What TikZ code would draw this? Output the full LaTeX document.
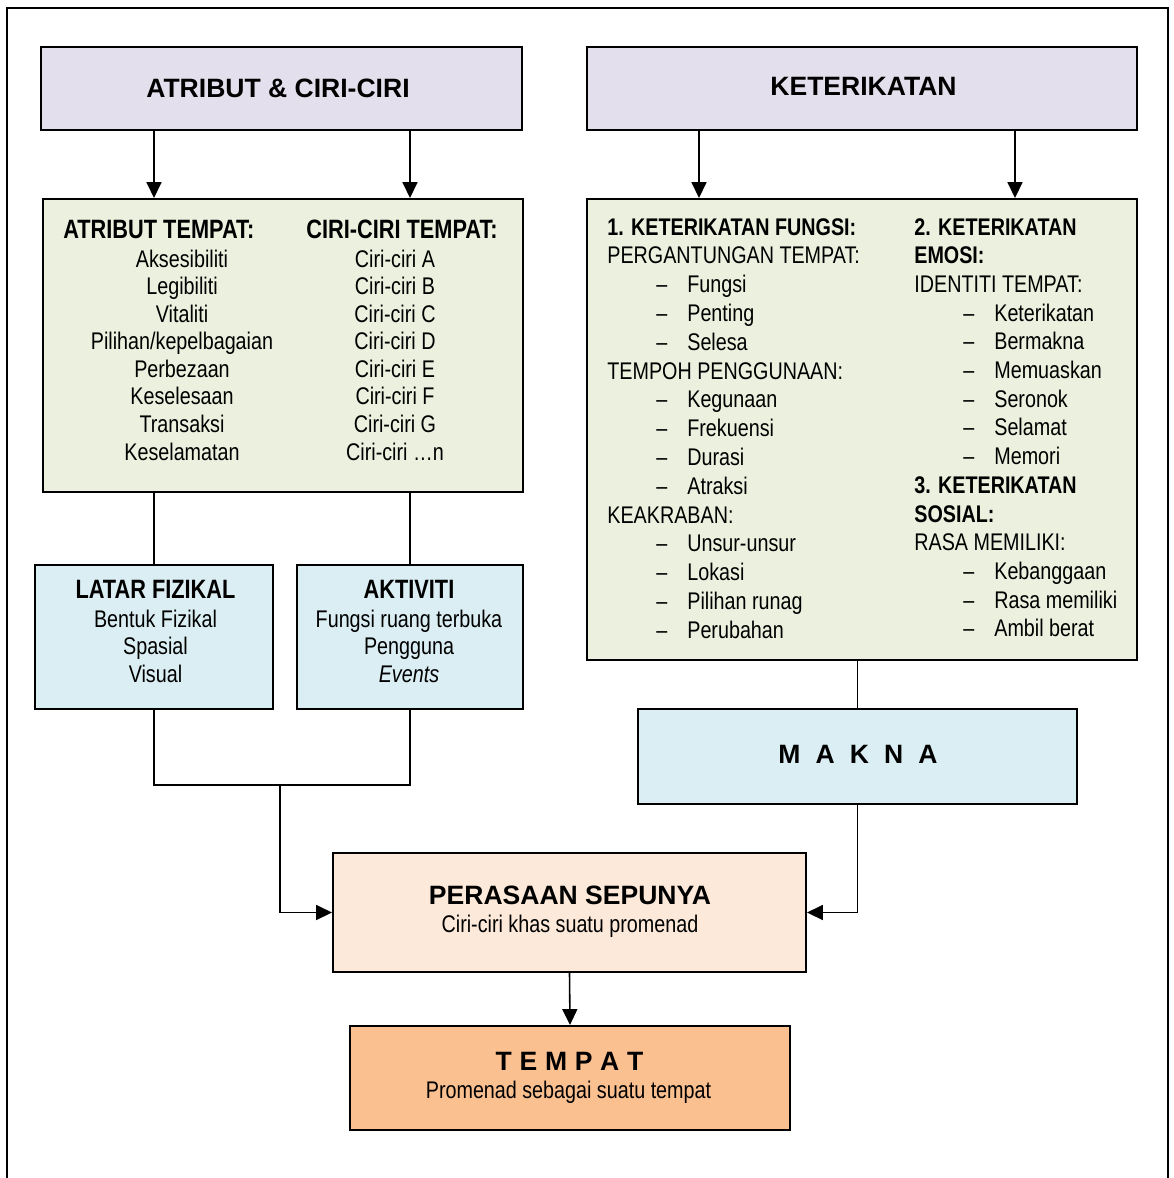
\documentclass[tikz,border=0pt]{standalone}
\usepackage{fontspec}
\setmainfont{Liberation Sans}
\newfontfamily\narrow{Liberation Sans}[FakeStretch=0.82]
\usepackage{tikz}
\usetikzlibrary{arrows.meta}

\definecolor{lilac}{HTML}{E4DFEC}
\definecolor{sage}{HTML}{EBF1DE}
\definecolor{sky}{HTML}{DAEEF3}
\definecolor{peach}{HTML}{FDE9D9}
\definecolor{apricot}{HTML}{FAC090}

\begin{document}
\begin{tikzpicture}[x=0.02cm, y=-0.02cm,
	box/.style={draw, line width=1.2pt, inner sep=0pt},
	link/.style={line width=0.9pt},
	arr/.style={link, -{Triangle[length=9pt,width=8.5pt]}},
	title/.style={font=\fontsize{15.1}{18}\selectfont\bfseries, anchor=base, inner sep=0pt},
	head/.style={font=\narrow\fontsize{15.1}{18}\selectfont\bfseries, anchor=base, inner sep=0pt},
	body/.style={font=\narrow\fontsize{13.7}{16}\selectfont, anchor=base, inner sep=0pt},
	bodyb/.style={body, font=\narrow\fontsize{13.7}{16}\selectfont\bfseries}]
	\useasboundingbox (0,0) rectangle (1174,1178);
	\draw[line width=1.2pt] (7,1178) |- (1168,8) -- (1168,1178);

	% boxes
	\node[box, fill=lilac, minimum width=9.62cm, minimum height=1.66cm] (atr) at (281.5,88.5) {};
	\node[box, fill=lilac, minimum width=11cm, minimum height=1.66cm] (ket) at (862,88.5) {};
	\node[box, fill=sage, minimum width=9.6cm, minimum height=5.86cm] (attr) at (283,345.5) {};
	\node[box, fill=sage, minimum width=11cm, minimum height=9.22cm] (ikat) at (862,429.5) {};
	\node[box, fill=sky, minimum width=4.76cm, minimum height=2.88cm] (latar) at (154,637) {};
	\node[box, fill=sky, minimum width=4.52cm, minimum height=2.88cm] (aktiviti) at (410,637) {};
	\node[box, fill=sky, minimum width=8.78cm, minimum height=1.9cm] (makna) at (857.5,756.5) {};
	\node[box, fill=peach, minimum width=9.46cm, minimum height=2.38cm] (rasa) at (569.5,912.5) {};
	\node[box, fill=apricot, minimum width=8.8cm, minimum height=2.08cm] (tempat) at (570,1078) {};

	% titles
	\node[title] (atrtitle) at (278,97) {ATRIBUT \& CIRI-CIRI};
	\node[title] (kettitle) at (863.5,95) {KETERIKATAN};
	\node[title] (maknatitle) at (858,763) {M\hspace{.57em}A\hspace{.57em}K\hspace{.57em}N\hspace{.57em}A};
	\node[title] (rasatitle) at (570,904) {PERASAAN SEPUNYA};
	\node[body] (rasatext) at (570,932) {Ciri-ciri khas suatu promenad};
	\node[title] (tempattitle) at (569.5,1070) {T\hspace{.29em}E\hspace{.29em}M\hspace{.29em}P\hspace{.29em}A\hspace{.29em}T};
	\node[body] (tempattext) at (568.5,1098) {Promenad sebagai suatu tempat};

	% atribut dan ciri-ciri
	\node[head, anchor=base west] (attrhead) at (63,238) {ATRIBUT TEMPAT:};
	\node[head, anchor=base west] (cirihead) at (306,238) {CIRI-CIRI TEMPAT:};
	\foreach \t [count=\i from 0] in {Aksesibiliti, Legibiliti, Vitaliti, Pilihan/kepelbagaian, Perbezaan, Keselesaan, Transaksi, Keselamatan}
		\node[body] (attr\i) at (182,{267+27.57*\i}) {\t};
	\foreach \t [count=\i from 0] in {A, B, C, D, E, F, G, …n}
		\node[body] (ciri\i) at (395,{267+27.57*\i}) {Ciri-ciri \t};

	% keterikatan
	\node[bodyb, anchor=base west] (fungsihead) at (607,235) {1. KETERIKATAN FUNGSI:};
	\foreach \r/\t in {1/PERGANTUNGAN TEMPAT:, 5/TEMPOH PENGGUNAAN:, 10/KEAKRABAN:}
		\node[body, anchor=base west] (fungsisub\r) at (607,{235+28.8*\r}) {\t};
	\foreach \r/\t in {2/Fungsi, 3/Penting, 4/Selesa, 6/Kegunaan, 7/Frekuensi, 8/Durasi, 9/Atraksi, 11/Unsur-unsur, 12/Lokasi, 13/Pilihan runag, 14/Perubahan} {
		\node[body, anchor=base west] (fungsidash\r) at (656,{235+28.8*\r}) {–};
		\node[body, anchor=base west] (fungsi\r) at (687,{235+28.8*\r}) {\t};
	}
	\foreach \r/\t in {0/2. KETERIKATAN, 1/EMOSI:, 9/3. KETERIKATAN, 10/SOSIAL:}
		\node[bodyb, anchor=base west] (emosihead\r) at (914,{235+28.7*\r}) {\t};
	\foreach \r/\t in {2/IDENTITI TEMPAT:, 11/RASA MEMILIKI:}
		\node[body, anchor=base west] (emosisub\r) at (914,{235+28.7*\r}) {\t};
	\foreach \r/\t in {3/Keterikatan, 4/Bermakna, 5/Memuaskan, 6/Seronok, 7/Selamat, 8/Memori, 12/Kebanggaan, 13/Rasa memiliki, 14/Ambil berat} {
		\node[body, anchor=base west] (emosidash\r) at (963,{235+28.7*\r}) {–};
		\node[body, anchor=base west] (emosi\r) at (994,{235+28.7*\r}) {\t};
	}

	% latar fizikal dan aktiviti
	\node[head] (latartitle) at (155.5,598) {LATAR FIZIKAL};
	\node[body] (latar1) at (155.5,627) {Bentuk Fizikal};
	\node[body] (latar2) at (155.5,654.5) {Spasial};
	\node[body] (latar3) at (155.5,682) {Visual};
	\node[head] (aktivititle) at (409,598) {AKTIVITI};
	\node[body] (aktiviti1) at (409,627) {Fungsi ruang terbuka};
	\node[body] (aktiviti2) at (409,654.5) {Pengguna};
	\node[body] (aktiviti3) at (409,682) {\itshape Events};

	% connectors
	\draw[arr] (latar.north |- atr.south) -- (latar.north |- attr.north);
	\draw[arr] (aktiviti.north |- atr.south) -- (aktiviti.north |- attr.north);
	\draw[arr] (699,0 |- ket.south) -- (699,0 |- ikat.north);
	\draw[arr] (1015,0 |- ket.south) -- (1015,0 |- ikat.north);
	\draw[link] (latar.north |- attr.south) -- (latar.north);
	\draw[link] (aktiviti.north |- attr.south) -- (aktiviti.north);
	\coordinate (join) at (280,785);
	\draw[link] (latar.south) |- (join) -| (aktiviti.south);
	\draw[arr] (join) |- (rasa.west);
	\draw[link] (makna.north |- ikat.south) -- (makna.north);
	\draw[arr] (makna.south) |- (rasa.east);
	\draw[arr] (rasa.south) -- (tempat.north);
\end{tikzpicture}
\end{document}
